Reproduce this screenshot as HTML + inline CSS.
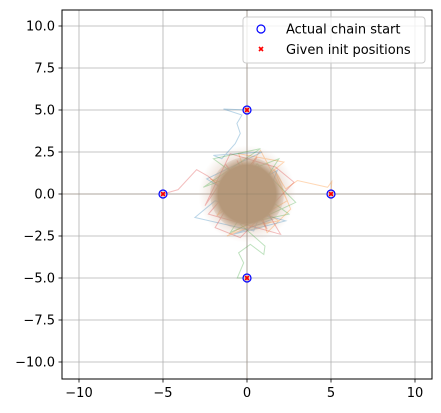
<!DOCTYPE html>
<html><head><meta charset="utf-8"><style>
html,body{margin:0;padding:0;background:#fff;}
svg{display:block;font-family:"DejaVu Sans","Liberation Sans",sans-serif;}
</style></head><body>
<svg id="chart" width="441" height="413" viewBox="0 0 441 413">
<defs>
<radialGradient id="core" cx="50%" cy="50%" r="50%">
<stop offset="0%" stop-color="#b5987a" stop-opacity="1"/>
<stop offset="78%" stop-color="#b5987a" stop-opacity="1"/>
<stop offset="100%" stop-color="#bfa185" stop-opacity="0.25"/>
</radialGradient>
<radialGradient id="halo" cx="50%" cy="50%" r="50%">
<stop offset="0%" stop-color="#c9a890" stop-opacity="0.5"/>
<stop offset="75%" stop-color="#d4b4a0" stop-opacity="0.35"/>
<stop offset="100%" stop-color="#dcc4b4" stop-opacity="0"/>
</radialGradient>
<clipPath id="clip"><rect x="62" y="10" width="370" height="369"/></clipPath>
</defs>
<rect x="62" y="10" width="370" height="369" fill="#fff"/>
<g id="grid"></g>
<g id="traces" clip-path="url(#clip)"></g>
<g id="markers"></g>
<rect x="62" y="10" width="370" height="369" fill="none" stroke="#000" stroke-width="1"/>
<g id="ticks"></g>
<g>
<rect x="243" y="17" width="182" height="46" rx="3" fill="#fff" fill-opacity="0.8" stroke="#ccc"/>
<circle cx="261" cy="29" r="4" fill="none" stroke="#0000ff" stroke-width="1.2"/>
<text x="286" y="33.5" font-size="13" fill="#000">Actual chain start</text>
<g stroke="#ff0000" stroke-width="1.6"><line x1="259" y1="47" x2="263" y2="51"/><line x1="263" y1="47" x2="259" y2="51"/></g>
<text x="286" y="54" font-size="13" fill="#000">Given init positions</text>
</g>
</svg>
<script>
const ticks=[-10,-5,0,5,10];
const yTickLabels=["\u221210.0","\u22127.5","\u22125.0","\u22122.5","0.0","2.5","5.0","7.5","10.0"];
const yTicks=[-10,-7.5,-5,-2.5,0,2.5,5,7.5,10];
const startX=[5,0,-5,0];
const startY=[0,5,0,-5];
const colors=["#ff7f0e","#1f77b4","#d62728","#2ca02c"];
const chainA_x=[5,5.05,4.8,3.0,2.3,1.6,2.6,1.2,-0.5,2.2,-1.8,0.8,2.4,-1.2,0.3,1.9,-2.2,0.5];
const chainA_y=[0,0.75,0.4,0.8,0.3,1.5,-0.9,-2.3,2.4,1.9,-1.3,2.6,-0.4,-2.5,-1.9,-1.6,0.9,0.1];
const chainB_x=[0,-1.4,-0.3,-0.6,-0.4,-0.7,-1.5,-2.0,0.9,-2.4,1.5,-0.8,2.3,-1.9,-3.1,0.4,1.8,-0.2];
const chainB_y=[5,5.06,4.7,4.2,3.6,3.0,2.1,2.3,2.5,0.9,-1.5,-2.4,-1.6,-0.4,-1.4,-2.2,1.4,0.3];
const chainC_x=[-5,-4.1,-3.0,-2.3,-1.7,-2.5,-1.0,1.7,2.8,-0.4,-1.9,0.6,-2.3,2.0,-0.6,1.2,-1.3,0.2];
const chainC_y=[0,0.26,1.45,1.05,0.5,-0.7,2.4,1.6,0.7,-2.6,-2.0,2.2,-1.2,-2.4,2.0,-2.1,1.8,0.0];
const chainD_x=[0,-0.58,-0.2,-0.5,0.2,1.0,1.07,-0.4,2.5,-2.0,0.8,-2.6,1.9,-1.0,2.9,0.6,-1.4,0.0];
const chainD_y=[-5,-5,-4.1,-3.5,-3.0,-3.6,-3.1,-1.8,-1.2,2.1,2.7,0.4,2.1,-2.3,-0.5,1.8,-0.9,0.2];
const coreRadius=2.2;
const haloRadius=2.9;

const X=v=>247+16.8*v, Y=v=>194-16.8*v;
const NS="http://www.w3.org/2000/svg";
function mk(tag,attrs,parent){const e=document.createElementNS(NS,tag);for(const k in attrs)e.setAttribute(k,attrs[k]);parent.appendChild(e);return e;}
const grid=document.getElementById('grid'),tk=document.getElementById('ticks');
ticks.forEach((t,i)=>{
 const l=mk('line',{x1:X(t),x2:X(t),y1:10,y2:379,stroke:'#b0b0b0','stroke-width':0.8},grid);
 
 
 const m=mk('line',{x1:X(t),x2:X(t),y1:379,y2:382.5,stroke:'#000','stroke-width':0.8},tk);
 
 
 const tx=mk('text',{x:X(t),y:397,'font-size':13,'text-anchor':'middle',fill:'#000'},tk);
 tx.textContent=t<0?'\u2212'+(-t):String(t);
 
 
});
yTicks.forEach((t,i)=>{
 const l=mk('line',{x1:62,x2:432,y1:Y(t),y2:Y(t),stroke:'#b0b0b0','stroke-width':0.8},grid);
 
 
 const m=mk('line',{x1:58.5,x2:62,y1:Y(t),y2:Y(t),stroke:'#000','stroke-width':0.8},tk);
 
 
 const tx=mk('text',{x:55,y:Y(t)+4.5,'font-size':13,'text-anchor':'end',fill:'#000'},tk);
 tx.textContent=yTickLabels[i];
 
 
});
const tr=document.getElementById('traces');
const halo=mk('circle',{cx:X(0),cy:Y(0),r:16.8*haloRadius,fill:'url(#halo)'},tr);


const chains=[[chainA_x,chainA_y],[chainB_x,chainB_y],[chainC_x,chainC_y],[chainD_x,chainD_y]];
chains.forEach((c,i)=>{
 const pts=c[0].map((x,j)=>X(x)+','+Y(c[1][j])).join(' ');
 const p=mk('polyline',{points:pts,fill:'none',stroke:colors[i],'stroke-opacity':0.3,'stroke-width':1},tr);
 
 
});
const core=mk('circle',{cx:X(0),cy:Y(0),r:16.8*coreRadius,fill:'url(#core)'},tr);


[[X(0),10,X(0),379],[62,Y(0),432,Y(0)]].forEach(a=>{
 const l=mk('line',{x1:a[0],y1:a[1],x2:a[2],y2:a[3],stroke:'#8a7560','stroke-width':0.8,'stroke-opacity':0.5},tr);
 
 
});
const mg=document.getElementById('markers');
startX.forEach((x,i)=>{
 const c=mk('circle',{cx:X(x),cy:Y(startY[i]),r:4,fill:'none',stroke:'#0000ff','stroke-width':1.2},mg);
 
 
 const g=mk('g',{stroke:'#ff0000','stroke-width':1.6},mg);
 
 
 mk('line',{x1:X(x)-2,y1:Y(startY[i])-2,x2:X(x)+2,y2:Y(startY[i])+2},g);
 mk('line',{x1:X(x)+2,y1:Y(startY[i])-2,x2:X(x)-2,y2:Y(startY[i])+2},g);
});
</script>
</body></html>
